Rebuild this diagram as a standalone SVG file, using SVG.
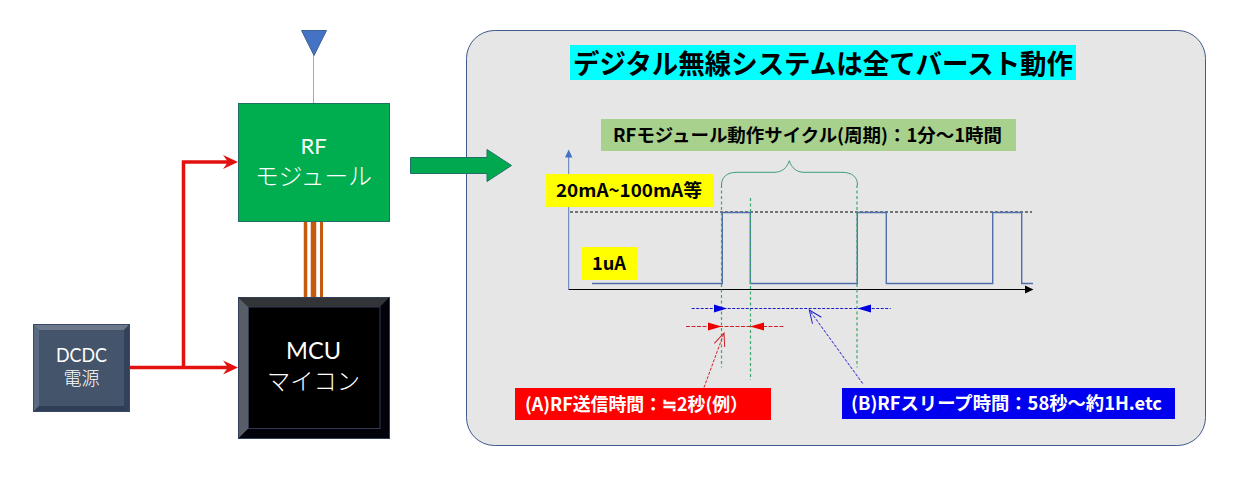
<svg xmlns="http://www.w3.org/2000/svg" width="1233" height="491" viewBox="0 0 1233 491">
<style>
.w{font-family:"Noto Sans CJK JP","Noto Sans",sans-serif;fill:#fff;text-anchor:middle;font-weight:400}
.lat{font-family:"Lato","Noto Sans CJK JP",sans-serif;font-weight:400}
.b{font-family:"Noto Sans CJK JP","Noto Sans",sans-serif;font-weight:700;font-size:18px}
.red{fill:none;stroke:#e31010;stroke-width:3.5}
.bw{fill:none;stroke:#c55a11}
.wave{fill:none;stroke:#4f6fab;stroke-width:1.4}
.gd{fill:none;stroke:#3aa76d;stroke-width:1.2;stroke-dasharray:3 2.500}
</style>
<defs>
<marker id="bo" markerUnits="userSpaceOnUse" markerWidth="16" markerHeight="14" refX="14" refY="7" orient="auto"><path d="M1 1.500L14 7L1 12.500" fill="none" stroke="#1a1acb" stroke-width="1"/></marker>
<marker id="ro" markerUnits="userSpaceOnUse" markerWidth="16" markerHeight="14" refX="14" refY="7" orient="auto"><path d="M1 1.500L14 7L1 12.500" fill="none" stroke="#d0202a" stroke-width="1"/></marker>
</defs>
<rect width="1233" height="491" fill="#fff"/>
<g id="panel">
<rect x="466.500" y="30.500" width="739" height="415" rx="28" fill="#e7e6e6" stroke="#3f5a8c" stroke-width="1"/>
<rect x="570" y="45" width="506" height="35" fill="#00ffff"/>
<text x="823" y="73.500" font-family="'Noto Sans CJK JP',sans-serif" font-size="27.500" font-weight="700" text-anchor="middle" textLength="500" lengthAdjust="spacingAndGlyphs" fill="#000">デジタル無線システムは全てバースト動作</text>
</g>
<g id="antenna">
<line x1="313.500" y1="55" x2="313.500" y2="103" stroke="#8faadc" stroke-width="1"/>
<path d="M301.500 30.500H326.500L314 55.500Z" fill="#4472c4" stroke="#3f6297" stroke-width="1"/>
</g>
<g id="connectors">
<g class="bw"><line x1="305.500" y1="221" x2="305.500" y2="297" stroke-width="3.500"/><line x1="313.500" y1="221" x2="313.500" y2="297" stroke-width="5.500"/><line x1="321.500" y1="221" x2="321.500" y2="297" stroke-width="3"/></g>
<path class="red" d="M129 367.500H228" />
<path d="M223 360.500L238 367.500L223 374.500L228 367.500Z" fill="#e31010"/>
<path class="red" d="M183.500 367.500V162H228"/>
<path d="M223 155L238 162L223 169L228 162Z" fill="#e31010"/>
<path d="M410.500 157.500H487V149.500L511.500 165.500L487 181.500V173.500H410.500Z" fill="#00a950" stroke="#1f7068" stroke-width="1"/>
</g>
<g id="rf-module">
<rect x="238.500" y="103.500" width="151" height="118" fill="#00ae50" stroke="#1f6f66" stroke-width="1"/>
<text class="w lat" x="313.500" y="154" font-size="22" style="font-family:Lato,sans-serif">RF</text>
<text class="w" x="313.500" y="185" font-size="24" textLength="117" lengthAdjust="spacingAndGlyphs" style="font-weight:300">モジュール</text>
</g>
<g id="mcu">
<rect x="238.500" y="297.500" width="151" height="141" fill="#000"/>
<path d="M238.500 297.500H389.500L380 307H248.500Z" fill="#333438"/>
<path d="M238.500 297.500L248.500 307V428.500L238.500 438.500Z" fill="#585e68"/>
<path d="M389.500 297.500L380 307V428.500L389.500 438.500Z" fill="#02030a"/>
<path d="M238.500 438.500L248.500 428.500H380L389.500 438.500Z" fill="#02030a"/>
<rect x="248.500" y="307" width="131.500" height="121.500" fill="#000" stroke="#333a52" stroke-width="1"/>
<rect x="238.500" y="297.500" width="151" height="141" fill="none" stroke="#333f58" stroke-width="1"/>
<text class="w lat" x="313.500" y="358.500" font-size="23" textLength="55" lengthAdjust="spacingAndGlyphs" style="font-family:Lato,sans-serif">MCU</text>
<text class="w" x="313.500" y="390" font-size="23.500" textLength="93" lengthAdjust="spacingAndGlyphs" style="font-weight:300">マイコン</text>
</g>
<g id="dcdc">
<rect x="33.500" y="324.500" width="96" height="87" fill="#44546a"/>
<path d="M33.500 324.500H129.500L124 330H39Z" fill="#6b788c"/>
<path d="M33.500 324.500L39 330V406L33.500 411.500Z" fill="#5a6a80"/>
<path d="M129.500 324.500L124 330V406L129.500 411.500Z" fill="#33415a"/>
<path d="M33.500 411.500L39 406H124L129.500 411.500Z" fill="#2f3d55"/>
<rect x="33.500" y="324.500" width="96" height="87" fill="none" stroke="#384a68" stroke-width="1"/>
<text class="w lat" x="81.500" y="361.500" font-size="18.500" textLength="51" lengthAdjust="spacingAndGlyphs" style="font-family:Lato,sans-serif">DCDC</text>
<text class="w" x="81.500" y="385" font-size="18" style="font-weight:300">電源</text>
</g>
<g id="chart">
<line x1="568.700" y1="155" x2="568.700" y2="289.500" stroke="#5b7bb5" stroke-width="1"/>
<path d="M565 157.500L568.700 149.500L572.400 157.500Z" fill="#4472c4"/>
<line x1="568.700" y1="289.500" x2="1026" y2="289.500" stroke="#000" stroke-width="1"/>
<path d="M1025 285.500L1033.500 289.500L1025 293.500Z" fill="#000"/>
<line x1="570" y1="212" x2="1032" y2="212" stroke="#000" stroke-width="1" stroke-dasharray="3 2"/>
<path class="wave" d="M592 283.500H722.300V212.500H750.300V283.500H857.300V212.500H886.300V283.500H992.700V212.500H1021.700V283.500H1033"/>
<path class="gd" d="M721.500 185V367.500M750.500 198V380M857 185V367.500"/>
<path d="M721.500 185C721.500 177 727 172.300 737 172.300H774C782 172.300 787 168 789.300 160.700C791.600 168 796.600 172.300 804 172.300H842C852 172.300 857.500 177 857.500 185" fill="none" stroke="#3f9a80" stroke-width="1"/>
<line x1="691.700" y1="308.500" x2="890.700" y2="308.500" stroke="#1a1acb" stroke-width="1" stroke-dasharray="3 1.500"/>
<path d="M714 304.500L727 308.500L714 312.500ZM871 304.500L857.500 308.500L871 312.500Z" fill="#0000e0"/>
<line x1="686" y1="326.500" x2="784" y2="326.500" stroke="#d0202a" stroke-width="1" stroke-dasharray="4 1.500"/>
<path d="M708 322.500L721.700 326.500L708 330.500ZM764 322.500L750 326.500L764 330.500Z" fill="#ee0000"/>
<line x1="704" y1="387.500" x2="724" y2="333" stroke="#d0202a" stroke-width="1" stroke-dasharray="3 1.500" marker-end="url(#ro)"/>
<line x1="862.700" y1="383.500" x2="809.300" y2="310" stroke="#1a1acb" stroke-width="1" stroke-dasharray="3 1.500" marker-end="url(#bo)"/>
</g>
<g id="label-cycle">
<rect x="601" y="119" width="415" height="32" fill="#a9d18e"/>
<text class="b" x="613" y="142" textLength="389" lengthAdjust="spacingAndGlyphs">RFモジュール動作サイクル(周期)：1分～1時間</text>
</g>
<g id="label-peak">
<rect x="546" y="174" width="168" height="33" fill="#ffff00"/>
<text class="b" x="556" y="197" textLength="146" lengthAdjust="spacingAndGlyphs">20mA~100mA等</text>
</g>
<g id="label-sleep">
<rect x="582" y="247" width="55" height="33" fill="#ffff00"/>
<text class="b" x="592" y="270" textLength="34" lengthAdjust="spacingAndGlyphs">1uA</text>
</g>
<g id="label-a">
<rect x="515" y="388" width="256" height="32" fill="#ff0000"/>
<text class="b" x="525" y="411" fill="#fff" textLength="223" lengthAdjust="spacingAndGlyphs">(A)RF送信時間：≒2秒(例）</text>
</g>
<g id="label-b">
<rect x="842" y="388" width="333" height="31" fill="#0000ee"/>
<text class="b" x="851" y="410" fill="#fff" textLength="311" lengthAdjust="spacingAndGlyphs">(B)RFスリープ時間：58秒～約1H.etc</text>
</g>
</svg>
